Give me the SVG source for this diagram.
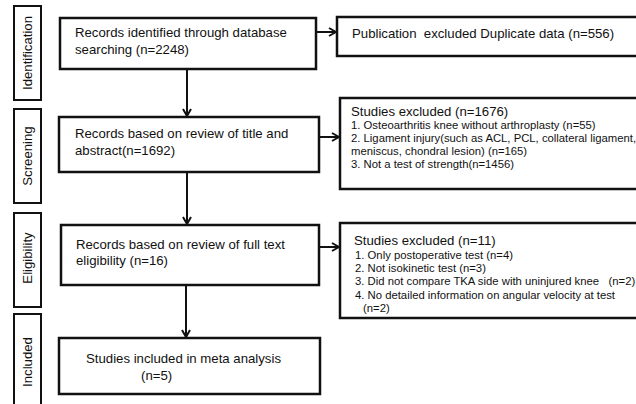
<svg xmlns="http://www.w3.org/2000/svg" width="636" height="404" viewBox="0 0 636 404">
<defs>
<style>
.bg{fill:#fff}
.box{fill:#fff;stroke:#111;stroke-width:2.5}
.side{fill:#fff;stroke:#111;stroke-width:2}
.t{font-family:"Liberation Sans",Arial,sans-serif;font-size:13.2px;fill:#111}
.s{font-family:"Liberation Sans",Arial,sans-serif;font-size:11.3px;fill:#111}
.ln{stroke:#111;stroke-width:2;fill:none}
</style>
<marker id="ah" viewBox="0 0 10 10" refX="9" refY="5" markerWidth="10" markerHeight="10" markerUnits="userSpaceOnUse" orient="auto">
<path d="M2,1 L9,5 L2,9" fill="none" stroke="#111" stroke-width="2"/>
</marker>
</defs>
<rect class="bg" x="0" y="0" width="636" height="404"/>
<g id="stage-identification"><rect class="side" x="14" y="6" width="27" height="94"/><text class="t" transform="translate(32,53) rotate(-90)" text-anchor="middle">Identification</text></g>
<g id="stage-screening"><rect class="side" x="14" y="109" width="27" height="94"/><text class="t" transform="translate(32,156) rotate(-90)" text-anchor="middle">Screening</text></g>
<g id="stage-eligibility"><rect class="side" x="14" y="213" width="27" height="94"/><text class="t" transform="translate(32,258) rotate(-90)" text-anchor="middle">Eligibility</text></g>
<g id="stage-included"><rect class="side" x="14" y="314" width="27" height="100"/><text class="t" transform="translate(32,362) rotate(-90)" text-anchor="middle">Included</text></g>
<g id="node-identified"><rect class="box" x="60" y="18" width="256" height="51"/><text class="t" x="75" y="37">Records identified through database</text><text class="t" x="75" y="54">searching (n=2248)</text></g>
<g id="node-screened"><rect class="box" x="59" y="117" width="260" height="55"/><text class="t" x="75" y="138">Records based on review of title and</text><text class="t" x="75" y="155">abstract(n=1692)</text></g>
<g id="node-eligible"><rect class="box" x="61" y="225" width="258" height="60"/><text class="t" x="76" y="249">Records based on review of full text</text><text class="t" x="76" y="265">eligibility (n=16)</text></g>
<g id="node-included"><rect class="box" x="59" y="338" width="261" height="56"/><text class="t" x="86" y="363">Studies included in meta analysis</text><text class="t" x="141" y="380">(n=5)</text></g>
<g id="node-duplicates"><rect class="box" x="337" y="17" width="310" height="39"/><text class="t" x="352" y="38" xml:space="preserve">Publication  excluded Duplicate data (n=556)</text></g>
<g id="node-excluded1"><rect class="box" x="340" y="98" width="310" height="91"/><text class="t" x="351" y="116">Studies excluded (n=1676)</text><text class="s" x="351" y="129">1. Osteoarthritis knee without arthroplasty (n=55)</text><text class="s" x="351" y="142">2. Ligament injury(such as ACL, PCL, collateral ligament,</text><text class="s" x="351" y="155">meniscus, chondral lesion) (n=165)</text><text class="s" x="351" y="168">3. Not a test of strength(n=1456)</text></g>
<g id="node-excluded2"><rect class="box" x="340" y="223" width="310" height="95"/><text class="t" x="354" y="245">Studies excluded (n=11)</text><text class="s" x="355" y="259">1. Only postoperative test (n=4)</text><text class="s" x="355" y="272">2. Not isokinetic test (n=3)</text><text class="s" x="355" y="285" xml:space="preserve">3. Did not compare TKA side with uninjured knee   (n=2)</text><text class="s" x="355" y="299">4. No detailed information on angular velocity at test</text><text class="s" x="363" y="312">(n=2)</text></g>
<g id="connectors">
<line class="ln" x1="187" y1="69" x2="187" y2="116" marker-end="url(#ah)"/>
<line class="ln" x1="187" y1="172" x2="187" y2="224" marker-end="url(#ah)"/>
<line class="ln" x1="186" y1="285" x2="186" y2="337" marker-end="url(#ah)"/>
<line class="ln" x1="317" y1="32" x2="336" y2="32" marker-end="url(#ah)"/>
<line class="ln" x1="320" y1="137" x2="339" y2="137" marker-end="url(#ah)"/>
<line class="ln" x1="320" y1="247" x2="339" y2="247" marker-end="url(#ah)"/>
</g>
</svg>
